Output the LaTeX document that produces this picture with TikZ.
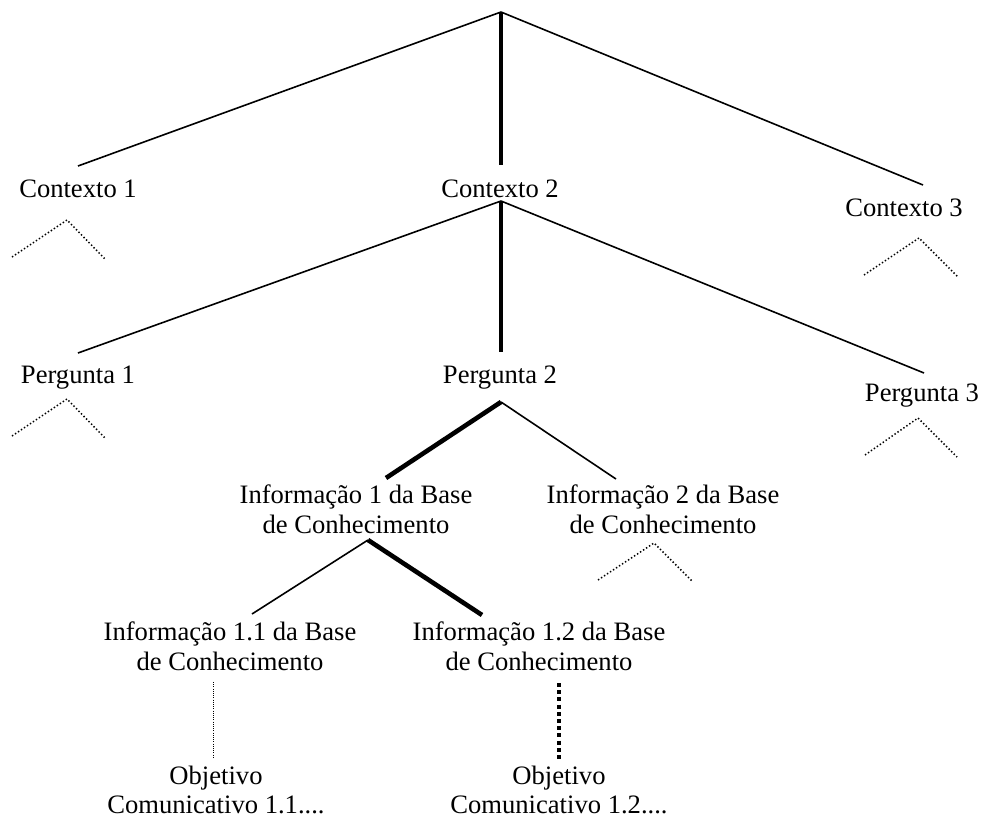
\documentclass[tikz,border=0pt]{standalone}
\usepackage{fontspec}
\setmainfont{Liberation Serif}
\begin{document}
\begin{tikzpicture}[x=1pt,y=-1pt,
  lbl/.style={inner sep=0pt, align=center, font=\fontsize{26.6}{29.8}\selectfont},
  edge/.style={line width=1.6pt},
  boldedge/.style={line width=4.6pt},
  hint/.style={line width=1.5pt, dash pattern=on 1.4pt off 2.2pt},
  thindot/.style={line width=1pt, dash pattern=on 1pt off 1.2pt},
  bolddash/.style={line width=4.2pt, dash pattern=on 4pt off 3.2pt}]
\useasboundingbox (0,0) rectangle (986,819);

% level 0: root
\coordinate (root) at (501,12);

% level 1: contexts
\node[lbl] (c1) at (78,189) {Contexto 1};
\node[lbl] (c2) at (500,189) {Contexto 2};
\node[lbl] (c3) at (904,208) {Contexto 3};
\coordinate (c1t) at (78,166);
\coordinate (c2t) at (501,165);
\coordinate (c3t) at (923,185);
\coordinate (c2b) at (501,201);

\draw[edge] (root) -- (c1t);
\draw[boldedge] (root) -- (c2t);
\draw[edge] (root) -- (c3t);

% open subtrees under the other contexts
\coordinate (c1h) at (67,220);
\coordinate (c1l) at (12,257);
\coordinate (c1r) at (105,259);
\draw[hint] (c1l) -- (c1h) -- (c1r);
\coordinate (c3h) at (919,238);
\coordinate (c3l) at (864,275);
\coordinate (c3r) at (958,277);
\draw[hint] (c3l) -- (c3h) -- (c3r);

% level 2: questions
\node[lbl] (p1) at (78,378) {Pergunta 1};
\node[lbl] (p2) at (500,378) {Pergunta 2};
\node[lbl] (p3) at (922,396) {Pergunta 3};
\coordinate (p1t) at (78,353);
\coordinate (p2t) at (501,352);
\coordinate (p3t) at (924,373);
\coordinate (p2b) at (501,402);

\draw[edge] (c2b) -- (p1t);
\draw[boldedge] (c2b) -- (p2t);
\draw[edge] (c2b) -- (p3t);

\coordinate (p1h) at (67,399);
\coordinate (p1l) at (12,436);
\coordinate (p1r) at (105,438);
\draw[hint] (p1l) -- (p1h) -- (p1r);
\coordinate (p3h) at (918,418);
\coordinate (p3l) at (865,455);
\coordinate (p3r) at (957,457);
\draw[hint] (p3l) -- (p3h) -- (p3r);

% level 3: knowledge-base items
\node[lbl] (i1) at (356,509) {Informação 1 da Base\\de Conhecimento};
\node[lbl] (i2) at (663,509) {Informação 2 da Base\\de Conhecimento};
\coordinate (i1t) at (386,478);
\coordinate (i2t) at (616,479);
\coordinate (i1b) at (368,540);

\draw[boldedge] (p2b) -- (i1t);
\draw[edge] (p2b) -- (i2t);

\coordinate (i2h) at (654,543);
\coordinate (i2l) at (598,580);
\coordinate (i2r) at (693,582);
\draw[hint] (i2l) -- (i2h) -- (i2r);

% level 4: sub-items
\node[lbl] (i11) at (230,646) {Informação 1.1 da Base\\de Conhecimento};
\node[lbl] (i12) at (539,646) {Informação 1.2 da Base\\de Conhecimento};
\coordinate (i11t) at (252,614);
\coordinate (i12t) at (482,615);

\draw[edge] (i1b) -- (i11t);
\draw[boldedge] (i1b) -- (i12t);

% level 5: communicative goals
\node[lbl] (o11) at (216,790) {Objetivo\\Comunicativo 1.1....};
\node[lbl] (o12) at (559,790) {Objetivo\\Comunicativo 1.2....};
\coordinate (i11b) at (213,682);
\coordinate (o11t) at (213,758);
\coordinate (i12b) at (559,683);
\coordinate (o12t) at (559,760);

\draw[thindot] (i11b) -- (o11t);
\draw[bolddash] (i12b) -- (o12t);
\end{tikzpicture}
\end{document}
